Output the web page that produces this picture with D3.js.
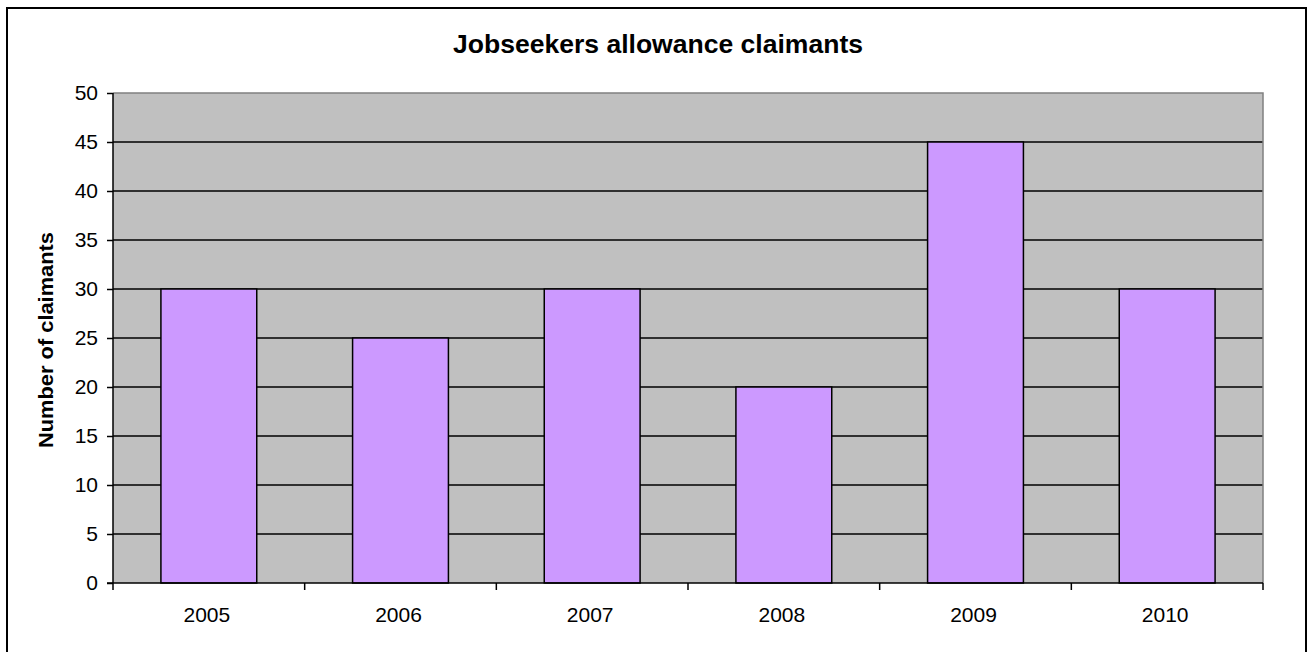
<!DOCTYPE html>
<html>
<head>
<meta charset="utf-8">
<script src="https://cdn.jsdelivr.net/npm/d3@7"></script>
<style>
  html, body { margin: 0; padding: 0; background: #fff; }
  svg { display: block; font-family: "Liberation Sans", Arial, sans-serif; }
</style>
</head>
<body>
<svg id="chart" width="1311" height="652"></svg>
<script>
// Jobseekers allowance claimants per year
const years = ["2005", "2006", "2007", "2008", "2009", "2010"];
const claimants = [30, 25, 30, 20, 45, 30];
const yTicks = [0, 5, 10, 15, 20, 25, 30, 35, 40, 45, 50];

const svg = d3.select("#chart");
const plot = { left: 113, top: 93, right: 1263, bottom: 583 };

// outer chart frame (bottom edge runs past the page)
svg.append("rect")
  .attr("x", 7).attr("y", 8)
  .attr("width", 1299).attr("height", 660)
  .attr("fill", "#fff").attr("stroke", "#000").attr("stroke-width", 2);

const x = d3.scaleBand()
  .domain(years)
  .range([plot.left, plot.right])
  .paddingInner(0.5).paddingOuter(0.25);

const y = d3.scaleLinear()
  .domain([0, 50])
  .range([plot.bottom, plot.top]);

// plot area background
svg.append("rect")
  .attr("x", plot.left).attr("y", plot.top)
  .attr("width", plot.right - plot.left).attr("height", plot.bottom - plot.top)
  .attr("fill", "#c0c0c0");

// horizontal gridlines
svg.append("g")
  .selectAll("line")
  .data(yTicks.filter(d => d > 0 && d < 50))
  .join("line")
  .attr("x1", plot.left).attr("x2", plot.right)
  .attr("y1", d => y(d)).attr("y2", d => y(d))
  .attr("stroke", "#000").attr("stroke-width", 1.5);

// grey top and right borders of the plot area
svg.append("path")
  .attr("d", `M${plot.left},${plot.top}H${plot.right}V${plot.bottom}`)
  .attr("fill", "none").attr("stroke", "#808080").attr("stroke-width", 1.5);

// bars
svg.append("g")
  .selectAll("rect")
  .data(years.map((yr, i) => ({ yr, v: claimants[i] })))
  .join("rect")
  .attr("x", d => x(d.yr))
  .attr("y", d => y(d.v))
  .attr("width", x.bandwidth())
  .attr("height", d => y(0) - y(d.v))
  .attr("fill", "#cc99ff")
  .attr("stroke", "#000").attr("stroke-width", 1.5);

// y axis
const yAxis = d3.axisLeft(y).tickValues(yTicks).tickSize(6).tickPadding(9);
const gy = svg.append("g")
  .attr("transform", `translate(${plot.left},0)`)
  .call(yAxis);
gy.attr("font-size", null).attr("font-family", null);
gy.select(".domain").attr("stroke", "#000").attr("stroke-width", 1.5).attr("d", `M-0,${plot.top}V${plot.bottom}`);
gy.selectAll(".tick line").attr("stroke", "#000").attr("stroke-width", 1.5);
gy.selectAll(".tick text")
  .attr("fill", "#000")
  .style("font-size", "21px")
  .style("font-family", "'Liberation Sans', Arial, sans-serif");

// x axis: ticks sit on category boundaries, labels centred in each category
const boundaries = d3.range(years.length + 1).map(i => plot.left + i * (plot.right - plot.left) / years.length);
const gx = svg.append("g");
gx.append("line")
  .attr("x1", plot.left - 6).attr("x2", plot.right)
  .attr("y1", plot.bottom).attr("y2", plot.bottom)
  .attr("stroke", "#000").attr("stroke-width", 1.5);
gx.selectAll("line.bt")
  .data(boundaries)
  .join("line")
  .attr("class", "bt")
  .attr("x1", d => d).attr("x2", d => d)
  .attr("y1", plot.bottom).attr("y2", plot.bottom + 7)
  .attr("stroke", "#000").attr("stroke-width", 1.5);
gx.selectAll("text")
  .data(years)
  .join("text")
  .attr("x", d => x(d) + x.bandwidth() / 2 - 2)
  .attr("y", 622)
  .attr("text-anchor", "middle")
  .style("font-size", "21px")
  .attr("fill", "#000")
  .text(d => d);

// title, centred on the whole chart
svg.append("text")
  .attr("x", 658)
  .attr("y", 53)
  .attr("text-anchor", "middle")
  .style("font-size", "25px").attr("font-weight", "bold")
  .attr("textLength", 410).attr("lengthAdjust", "spacingAndGlyphs")
  .text("Jobseekers allowance claimants");

// y axis title
svg.append("text")
  .attr("transform", `translate(53,${(plot.top + plot.bottom) / 2 + 2}) rotate(-90)`)
  .attr("text-anchor", "middle")
  .style("font-size", "21px").attr("font-weight", "bold")
  .attr("textLength", 216).attr("lengthAdjust", "spacingAndGlyphs")
  .text("Number of claimants");
</script>
</body>
</html>
